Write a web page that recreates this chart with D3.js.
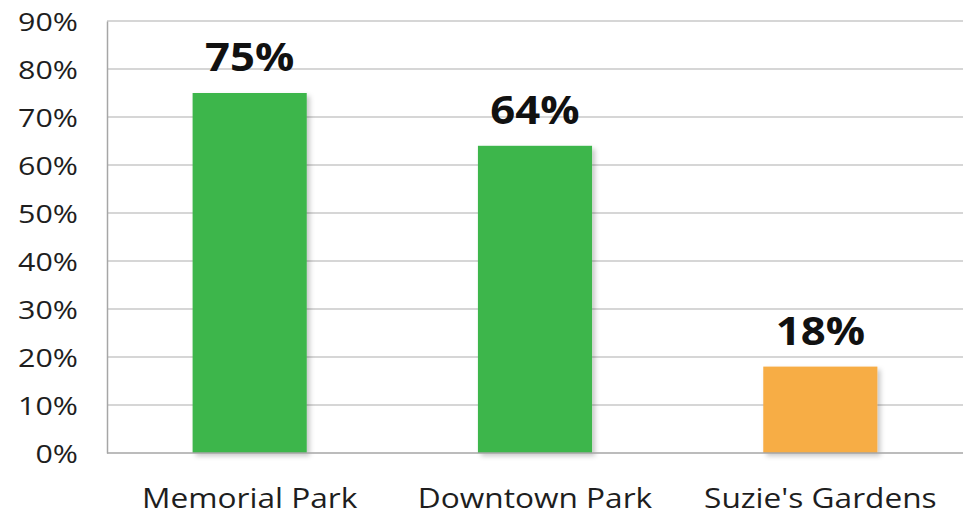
<!DOCTYPE html>
<html>
<head>
<meta charset="utf-8">
<script src="https://cdn.jsdelivr.net/npm/d3@7"></script>
<style>
  html, body { margin: 0; padding: 0; background: #ffffff; }
  svg { display: block; }
</style>
</head>
<body>
<svg id="chart" width="973" height="517"></svg>
<script>
// Share of visitors by park
const categories = ["Memorial Park", "Downtown Park", "Suzie's Gardens"];
const values = [75, 64, 18];
const barColors = ["#3cb64b", "#3cb64b", "#f7ad45"];
const yTicks = [0, 10, 20, 30, 40, 50, 60, 70, 80, 90];

const svg = d3.select("#chart");
const margin = { left: 107, right: 10, top: 21, bottom: 64 };
const W = 973, H = 517;
const FONT = "'Open Sans', sans-serif";
const WIDE = 1.17; // horizontal stretch applied to the lettering

const x = d3.scaleBand()
  .domain(categories)
  .range([margin.left, W - margin.right])
  .paddingInner(0.6)
  .paddingOuter(0.3);

const y = d3.scaleLinear()
  .domain([0, 90])
  .range([H - margin.bottom, margin.top]);

// soft shadow under the bars
const defs = svg.append("defs");
const f = defs.append("filter").attr("id", "barShadow")
  .attr("x", "-10%").attr("y", "-10%").attr("width", "130%").attr("height", "130%");
f.append("feDropShadow").attr("dx", 3).attr("dy", 3).attr("stdDeviation", 2.5)
  .attr("flood-color", "#000").attr("flood-opacity", 0.22);

// horizontal gridlines
svg.append("g")
  .selectAll("line")
  .data(yTicks.filter(d => d > 0))
  .join("line")
  .attr("x1", margin.left)
  .attr("x2", W - margin.right)
  .attr("y1", d => y(d))
  .attr("y2", d => y(d))
  .attr("stroke", "#c8c8c8")
  .attr("stroke-width", 1.5);

// y axis labels
const yAxis = d3.axisLeft(y).tickValues(yTicks).tickFormat(d => d + "%").tickSize(0).tickPadding(29);
const gy = svg.append("g").attr("transform", `translate(${margin.left},0)`).call(yAxis);
gy.select(".domain").attr("stroke", "#a6a6a6").attr("stroke-width", 1.5);
gy.selectAll("text")
  .attr("x", -29 / WIDE)
  .attr("transform", `scale(${WIDE},1)`)
  .attr("font-family", FONT)
  .attr("font-size", 26)
  .attr("fill", "#1e1e1e")
  .attr("dy", "0.36em");

// bars
svg.append("g")
  .selectAll("rect")
  .data(values)
  .join("rect")
  .attr("x", (d, i) => x(categories[i]))
  .attr("y", d => y(d))
  .attr("width", x.bandwidth())
  .attr("height", d => y(0) - y(d))
  .attr("fill", (d, i) => barColors[i])
  .attr("filter", "url(#barShadow)");

// baseline and category labels
const xAxis = d3.axisBottom(x).tickSize(0).tickPadding(35);
const gx = svg.append("g").attr("transform", `translate(0,${y(0)})`).call(xAxis);
gx.select(".domain").attr("stroke", "#a6a6a6").attr("stroke-width", 1.5)
  .attr("d", `M${margin.left},0H${W - margin.right}`);
gx.selectAll("text")
  .attr("transform", `scale(1.13,1)`)
  .attr("font-family", FONT)
  .attr("font-size", 28)
  .attr("fill", "#1e1e1e");

// value labels
svg.append("g")
  .selectAll("g")
  .data(values)
  .join("g")
  .attr("transform", (d, i) => `translate(${x(categories[i]) + x.bandwidth() / 2},${y(d) - 22}) scale(1.12,1)`)
  .append("text")
  .attr("text-anchor", "middle")
  .attr("font-family", FONT)
  .attr("font-weight", "bold")
  .attr("font-size", 39)
  .attr("fill", "#111")
  .text(d => d + "%");
</script>
</body>
</html>
